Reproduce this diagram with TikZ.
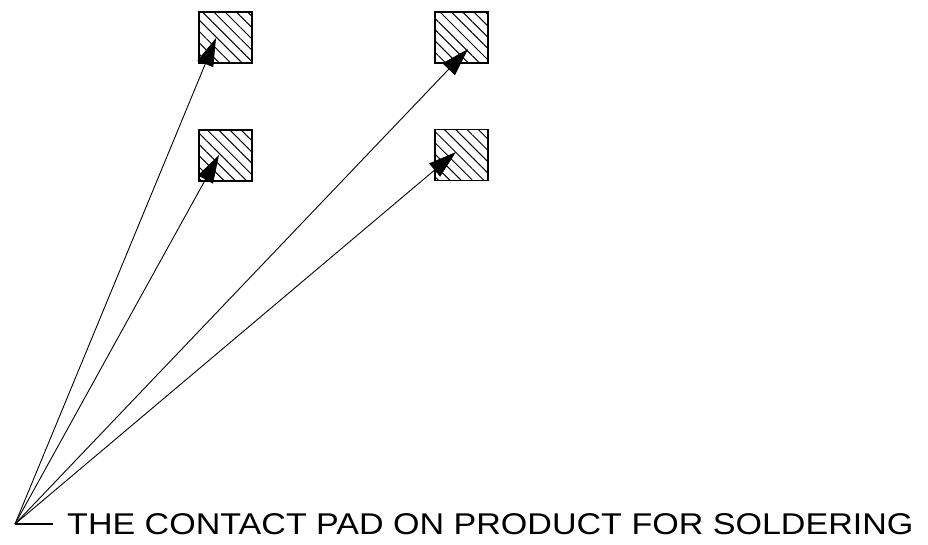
\documentclass[tikz,border=0pt]{standalone}
\usepackage{fontspec}
\setmainfont{Liberation Sans}
\usetikzlibrary{arrows.meta,patterns.meta}
\begin{document}
\begin{tikzpicture}[x=1pt,y=-1pt,
  pad/.style={draw=black,line width=1.5pt,minimum width=53pt,minimum height=51pt,inner sep=0pt,
    pattern={Lines[angle=-45,distance=8pt,line width=1pt]}},
  leader/.style={line width=0.9pt,-{Triangle[length=28pt,width=17pt]}}]
\useasboundingbox (0,0) rectangle (928,545);
\node[pad] (p1) at (225.5,37.5) {};
\node[pad] (p2) at (225.5,155.5) {};
\node[pad] (p3) at (461.5,37.5) {};
\node[pad] (p4) at (461.5,155) {};
\coordinate (o) at (15,524);
\coordinate (t1) at (216,38);
\coordinate (t2) at (219,155);
\coordinate (t3) at (468,49);
\coordinate (t4) at (456,152);
\coordinate (e) at (53,524);
\draw[leader] (o) -- (t1);
\draw[leader] (o) -- (t2);
\draw[leader] (o) -- (t3);
\draw[leader] (o) -- (t4);
\draw[line width=1.1pt] (o) -- (e);
\node[anchor=base west,inner sep=0pt,font=\fontsize{30}{30}\selectfont] (lbl) at (67,534.3) {\scalebox{1.135}[1]{THE CONTACT PAD ON PRODUCT FOR SOLDERING}};
\end{tikzpicture}
\end{document}
